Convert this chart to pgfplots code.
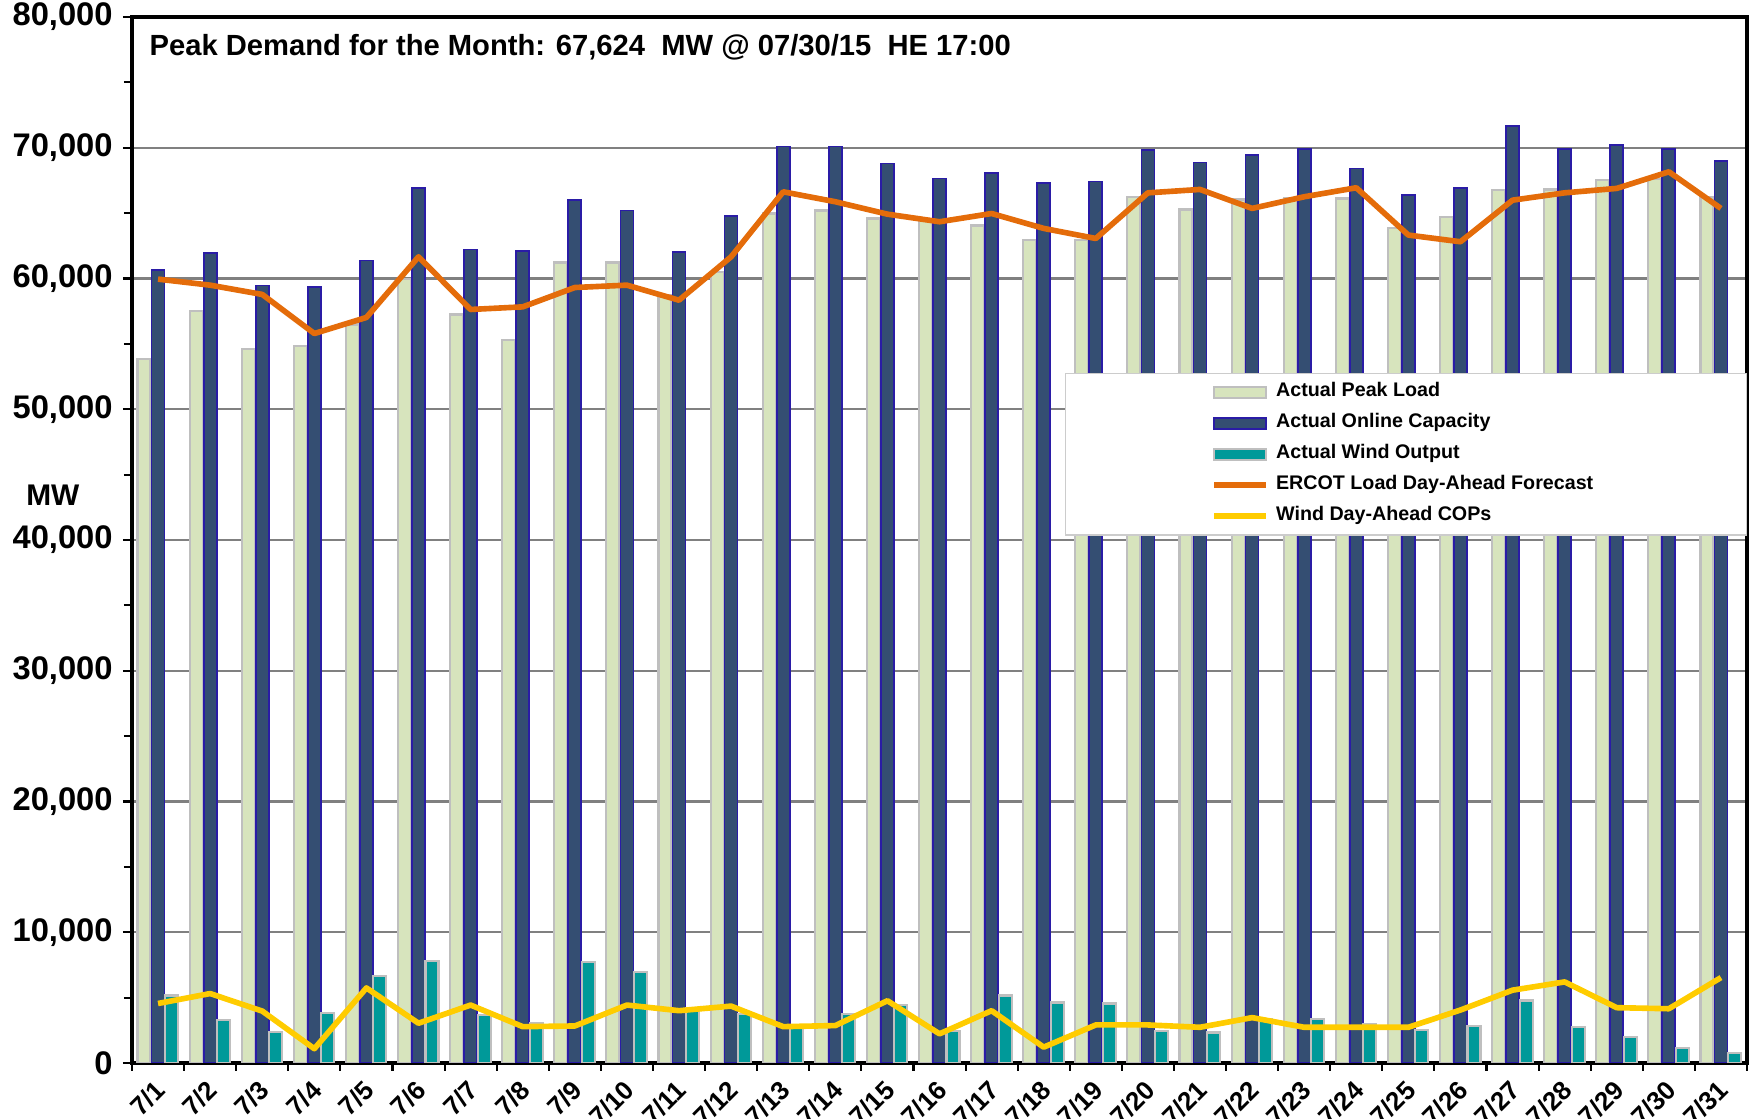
\documentclass[border=0pt]{standalone}
\usepackage{fontspec}
\setmainfont{Liberation Sans}
\usepackage{pgfplots}
\usepackage{pgfplotstable}
\pgfplotsset{compat=1.18}

\definecolor{peakfill}{HTML}{D7E4BD}
\definecolor{peakdraw}{HTML}{BFBFBF}
\definecolor{capfill}{HTML}{344E72}
\definecolor{capdraw}{HTML}{2A1CA6}
\definecolor{windfill}{HTML}{009999}
\definecolor{fcorange}{HTML}{E46C0A}
\definecolor{copyellow}{HTML}{FFCC00}
\definecolor{gridgray}{HTML}{808080}

\pgfplotsset{
  barleg/.style={legend image code/.code={\draw[##1] (0cm,-0.55mm) rectangle (0.52cm,0.55mm);}},
  lineleg/.style={legend image code/.code={\draw[##1] (0cm,0cm) -- (0.52cm,0cm);}},
}

% ERCOT July 2015 daily peaks (MW)
\pgfplotstableread{
day peak  cap   wind fc    cop
1   53830 60640 5160 59950 4550
2   57500 61940 3260 59490 5310
3   54590 59460 2350 58780 3970
4   54820 59340 3800 55790 1090
5   56480 61380 6650 57020 5740
6   59950 66940 7820 61660 3040
7   57250 62220 3640 57630 4430
8   55280 62120 3040 57830 2780
9   61220 66020 7740 59310 2830
10  61220 65200 6980 59490 4430
11  58700 62040 4230 58340 4000
12  60510 64790 3720 61660 4350
13  64970 70100 2910 66630 2780
14  65200 70100 3720 65870 2860
15  64590 68800 4430 64920 4760
16  64390 67650 2450 64340 2230
17  64050 68060 5160 64970 4000
18  62930 67320 4630 63830 1210
19  62930 67420 4550 63060 2910
20  66200 69820 2450 66550 2910
21  65280 68880 2330 66810 2730
22  66040 69440 3390 65360 3470
23  66120 69890 3390 66250 2730
24  66120 68410 2960 66940 2730
25  63830 66370 2530 63320 2730
26  64720 66940 2860 62810 4050
27  66760 71650 4780 65990 5570
28  66810 69890 2780 66550 6200
29  67500 70200 1970 66890 4230
30  67624 69890 1140 68160 4150
31  66250 68980 760  65360 6530
}\ercot

\begin{document}
\begin{tikzpicture}
\begin{axis}[
  width=16.15cm, height=10.46cm, scale only axis,
  xmin=0.5, xmax=31.5, ymin=0, ymax=80000,
  xtick={1,...,31},
  xticklabels={7/1,7/2,7/3,7/4,7/5,7/6,7/7,7/8,7/9,7/10,7/11,7/12,7/13,7/14,7/15,7/16,
    7/17,7/18,7/19,7/20,7/21,7/22,7/23,7/24,7/25,7/26,7/27,7/28,7/29,7/30,7/31},
  minor xtick={0.5,1.5,...,31.5},
  major x tick style={draw=none},
  ytick={0,10000,...,80000},
  minor ytick={5000,15000,...,75000},
  tick align=outside, tick pos=left,
  major tick length=0.9mm, minor tick length=0.8mm,
  tick style={black, line width=0.6pt},
  axis line style={black, line width=0.9pt},
  ymajorgrids, grid style={gridgray, line width=0.6pt},
  scaled y ticks=false,
  /pgf/number format/assume math mode=true,
  yticklabel style={font=\fontsize{9.3}{10}\selectfont\bfseries, xshift=0.2mm,
    /pgf/number format/.cd, fixed, 1000 sep={,}},
  xticklabel style={font=\fontsize{7.4}{9}\selectfont\bfseries,
    xshift=0.3mm, yshift=-1.3mm, rotate=45, anchor=east, inner sep=0pt},
  ylabel={MW},
  ylabel style={rotate=-90, at={(axis description cs:-0.049,0.543)}, anchor=center,
    font=\fontsize{8.5}{10}\selectfont\bfseries},
  legend cell align=left,
  legend style={at={(axis description cs:1,0.6597)}, anchor=north east,
    draw=gray!40, fill=white, inner xsep=1.46cm, inner ysep=0.2mm, row sep=-0.27mm,
    font=\fontsize{5.6}{7}\selectfont\bfseries},
]
\addplot[ybar, bar width=0.13cm, bar shift=-0.14cm, fill=peakfill, draw=peakdraw, line width=0.6pt, barleg]
  table[x=day, y=peak] {\ercot};
\addlegendentry{Actual Peak Load}
\addplot[ybar, bar width=0.13cm, bar shift=0cm, fill=capfill, draw=capdraw, line width=0.5pt, barleg]
  table[x=day, y=cap] {\ercot};
\addlegendentry{Actual Online Capacity}
\addplot[ybar, bar width=0.13cm, bar shift=0.135cm, fill=windfill, draw=peakdraw, line width=0.6pt, barleg]
  table[x=day, y=wind] {\ercot};
\addlegendentry{Actual Wind Output}
\addplot[fcorange, line width=1.6pt, mark=none, line join=round, lineleg]
  table[x=day, y=fc] {\ercot};
\addlegendentry{ERCOT Load Day-Ahead Forecast}
\addplot[copyellow, line width=1.6pt, mark=none, line join=round, lineleg]
  table[x=day, y=cop] {\ercot};
\addlegendentry{Wind Day-Ahead COPs}
\node[anchor=west, inner sep=0pt, font=\fontsize{8.3}{10}\selectfont\bfseries]
  at (axis description cs:0.0105,0.971)
  {Peak Demand for the Month: 67,624~~MW @ 07/30/15~~HE 17:00};
\end{axis}
% the reference image is cut just below the day labels
\pgfresetboundingbox
\path ([xshift=-1.32cm, yshift=-0.56cm]current axis.south west)
  rectangle ([xshift=0.09cm, yshift=0.17cm]current axis.north east);
\end{tikzpicture}
\end{document}
